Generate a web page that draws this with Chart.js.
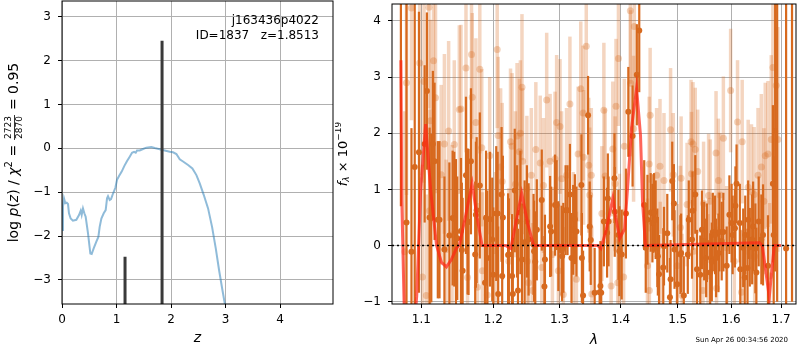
<!DOCTYPE html>
<html>
<head>
<meta charset="utf-8">
<script src="https://cdn.jsdelivr.net/npm/chart.js@4.4.0/dist/chart.umd.min.js"></script>
<style>
  body { margin: 0; background: #fff; width: 800px; height: 350px; overflow: hidden; position: relative; }
  #cPz { position: absolute; left: 0; top: 0; }
  #cSp { position: absolute; left: 335px; top: 0; }
</style>
</head>
<body>
<canvas id="cPz" width="340" height="350"></canvas>
<canvas id="cSp" width="465" height="350"></canvas>
<script>
// ---- left panel: log p(z) ----
var zGrid = [0, 0.018, 0.037, 0.061, 0.086, 0.11, 0.128, 0.159, 0.2, 0.263, 0.312, 0.343, 0.361, 0.385, 0.41, 0.434,
  0.477, 0.52, 0.544, 0.581, 0.63, 0.667, 0.691, 0.722, 0.765, 0.801, 0.826, 0.844, 0.875, 0.899, 0.936, 0.979,
  1.009, 1.046, 1.095, 1.144, 1.193, 1.242, 1.284, 1.321, 1.352, 1.376, 1.425, 1.486, 1.547, 1.639, 1.70, 1.792,
  1.884, 1.976, 2.037, 2.098, 2.159, 2.22, 2.312, 2.391, 2.465, 2.526, 2.599, 2.679, 2.752, 2.82, 2.881, 2.942, 2.99, 3.05];
var logPz = [-1.86, -1.33, -1.14, -1.25, -1.24, -1.27, -1.48, -1.60, -1.65, -1.63, -1.52, -1.42, -1.52, -1.37, -1.48, -1.56,
  -1.94, -2.40, -2.41, -2.28, -2.13, -2.02, -1.79, -1.60, -1.48, -1.41, -1.14, -1.09, -1.18, -1.16, -1.03, -0.90,
  -0.72, -0.63, -0.53, -0.40, -0.29, -0.19, -0.10, -0.08, -0.10, -0.05, -0.05, -0.015, 0.015, 0.03, 0.008, -0.02,
  -0.05, -0.08, -0.09, -0.13, -0.25, -0.30, -0.38, -0.46, -0.61, -0.80, -1.06, -1.37, -1.79, -2.28, -2.78, -3.23, -3.57, -4.07];
var zPeaks = [1.156, 1.835];
var peakTops = [-2.47, 2.456];
var zTicks = [0, 1, 2, 3, 4];
var lnpTicks = [-3, -2, -1, 0, 1, 2, 3];

// ---- right panel: spectrum ----
var darkLam = [
  1.0731,1.0804,1.0869,1.0912,1.0968,1.1044,1.1074,1.1110,1.1133,1.1154,
  1.1177,1.1221,1.1244,1.1311,1.1379,1.1424,1.1447,1.1470,1.1488,1.1540,
  1.1552,1.1563,1.1610,1.1632,1.1646,1.1680,1.1740,1.1750,1.1761,1.1806,
  1.1881,1.1895,1.1913,1.1952,1.1985,1.2000,1.2043,1.2064,1.2071,1.2121,
  1.2130,1.2140,1.2217,1.2228,1.2276,1.2287,1.2316,1.2350,1.2364,1.2400,
  1.2424,1.2464,1.2498,1.2524,1.2599,1.2607,1.2625,1.2649,1.2725,1.2766,
  1.2774,1.2854,1.2870,1.2931,1.2956,1.2983,1.3034,1.3042,1.3061,1.3097,
  1.3128,1.3166,1.3191,1.3218,1.3245,1.3270,1.3350,1.3358,1.3377,1.3458,
  1.3485,1.3502,1.3566,1.3648,1.3661,1.3674,1.3718,1.3772,1.3784,1.3796,
  1.3895,1.3900,1.3962,1.3978,1.4017,1.4089,1.4130,1.4203,1.4276,1.4318,
  1.4404,1.4431,1.4461,1.4518,1.4548,1.4565,1.4577,1.4605,1.4635,1.4644,
  1.4665,1.4740,1.4753,1.4812,1.4860,1.4871,1.4901,1.4931,1.4942,1.4990,
  1.5049,1.5062,1.5111,1.5184,1.5202,1.5262,1.5271,1.5322,1.5354,1.5415,
  1.5446,1.5488,1.5525,1.5539,1.5601,1.5632,1.5651,1.5694,1.5712,1.5758,
  1.5777,1.5820,1.5852,1.5916,1.5968,1.6011,1.6031,1.6075,1.6085,1.6107,
  1.6171,1.6180,1.6237,1.6267,1.6277,1.6322,1.6335,1.6367,1.6414,1.6433,
  1.6478,1.6498,1.6544,1.6597,1.6631,1.6731,1.6831,1.6847,1.6877,1.6918,
  1.7102,1.7225];
var darkFlux = [
  5.5,0.41,-0.11,1.4,1.66,1.81,2.75,0.50,0.49,1.81,
  1.50,0.46,0.46,-0.07,0.18,0.49,0.47,0.24,0.13,0.26,
  -0.08,-0.45,1.25,0.43,0.42,1.50,-0.16,0.55,0.63,1.07,
  -0.66,0.49,-0.22,0.47,0.11,-0.52,0.57,0.57,-0.86,0.91,
  -0.54,0.50,-0.17,-0.16,-0.54,-0.86,0.98,0.43,-0.80,0.59,
  -0.25,0.06,0.43,0.11,0.02,-0.10,-0.29,0.28,0.81,-0.73,
  -0.25,0.34,0.25,0.72,0.72,-0.01,-0.09,-0.19,-0.04,0.63,
  0.63,0.91,-0.22,0.28,0.47,0.25,1.08,-0.22,-0.89,2.32,
  0.34,0.10,-0.84,-0.83,-0.72,-0.84,0.43,0.23,0.84,0.43,
  1.20,0.60,0.19,-0.10,-0.16,0.57,2.38,1.95,3.04,3.83,
  0.72,-0.04,0.46,0.59,0.40,0.57,0.59,0.46,-0.04,-0.19,
  -0.51,-0.39,-0.01,0.22,-0.92,-0.60,1.15,0.75,-0.07,-0.69,
  -0.16,-0.13,-0.89,-0.16,0.46,0.11,0.62,0.91,-0.42,-0.52,
  0.28,0.08,-0.22,0.05,-0.48,-0.29,0.24,0.19,-0.22,-0.13,
  0.24,0.08,0.24,-0.36,0.55,0.40,0.19,0.31,0.71,1.10,
  0.40,-0.42,-0.04,-0.57,0.19,-0.40,0.46,-0.03,0.11,0.34,
  -0.05,-0.48,0.43,0.11,0.19,-0.36,1.10,0.19,2.04,5.0,
  -0.05,5.0];
var darkErr = [
  4.8,4.0,2.2,3.0,2.5,1.4,1.4,1.6,1.5,1.3,
  1.4,1.4,1.4,1.3,1.3,1.2,1.2,1.3,1.1,1.3,
  1.2,1.3,1.4,1.3,1.3,1.3,1.3,1.3,1.3,1.3,
  1.2,1.2,1.2,1.2,1.1,1.2,1.2,1.1,1.2,1.2,
  1.1,1.1,1.1,1.0,1.1,1.0,1.1,1.0,1.1,1.1,
  1.0,1.1,1.0,1.0,0.9,0.9,0.9,0.9,0.9,0.9,
  0.8,0.9,0.8,0.9,0.8,0.8,0.8,0.8,0.8,0.8,
  0.8,0.9,0.8,0.8,0.8,0.8,0.9,0.8,0.8,0.7,
  0.8,0.8,0.8,0.8,0.8,0.8,0.8,0.8,0.8,0.8,
  0.8,0.8,0.8,0.8,0.8,0.8,0.8,0.9,0.9,1.1,
  0.8,0.8,0.8,0.7,0.7,0.7,0.7,0.7,0.7,0.7,
  0.7,0.7,0.7,0.7,0.7,0.7,0.7,0.7,0.7,0.7,
  0.7,0.7,0.7,0.7,0.7,0.7,0.7,0.7,0.7,0.7,
  0.7,0.7,0.7,0.7,0.7,0.7,0.7,0.7,0.7,0.7,
  0.7,0.7,0.7,0.7,0.7,0.7,0.7,0.7,0.7,0.7,
  0.7,0.7,0.7,0.7,0.7,0.7,0.7,0.7,0.8,0.8,
  0.8,0.8,0.8,0.8,0.9,0.9,1.4,1.4,2.5,6.0,
  5.0,6.0];

var lightLam = [
  1.0782,1.0804,1.0869,1.0978,1.1014,1.1035,1.1066,1.1101,1.1110,1.1123,
  1.1163,1.1190,1.1267,1.1311,1.1334,1.1369,1.1416,1.1447,1.1517,1.1540,
  1.1610,1.1632,1.1688,1.1698,1.1750,1.1772,1.1806,1.1834,1.1843,1.1913,
  1.1948,1.2034,1.2057,1.2071,1.2107,1.2130,1.2228,1.2253,1.2276,1.2326,
  1.2350,1.2385,1.2400,1.2424,1.2434,1.2498,1.2506,1.2524,1.2565,1.2584,
  1.2634,1.2701,1.2725,1.2751,1.2801,1.2854,1.2890,1.2931,1.2956,1.2983,
  1.3009,1.3034,1.3061,1.3112,1.3166,1.3218,1.3270,1.3297,1.3340,1.3377,
  1.3385,1.3429,1.3469,1.3485,1.3511,1.3519,1.3685,1.3718,1.3739,1.3839,
  1.3867,1.3905,1.3921,1.3950,1.3962,1.3978,1.4050,1.4062,1.4164,1.4169,
  1.4220,1.4232,1.4461,1.4491,1.4494,1.4508,1.4622,1.4682,1.4687,1.4753,
  1.4871,1.4919,1.4990,1.5049,1.5062,1.5080,1.5171,1.5244,1.5253,1.5280,
  1.5293,1.5322,1.5367,1.5465,1.5477,1.5560,1.5571,1.5601,1.5712,1.5722,
  1.5758,1.5788,1.5852,1.5916,1.5992,1.6063,1.6126,1.6204,1.6217,1.6335,
  1.6400,1.6453,1.6464,1.6531,1.6597,1.6650,1.6676,1.6731,1.6763,1.6797,
  1.6831,1.6898,1.6932];
var lightFlux = [
  -0.11,2.90,4.23,3.25,-0.56,2.92,-0.89,4.24,0.62,2.22,
  3.29,2.63,1.26,1.81,-0.07,2.04,0.19,1.80,2.42,2.43,
  3.16,-0.57,3.40,2.64,2.19,-0.74,3.14,1.74,-0.45,-0.88,
  1.60,-0.09,3.49,1.96,1.40,1.14,-0.28,1.85,1.77,1.09,
  1.95,1.67,2.00,2.82,1.50,1.01,-0.28,-0.66,1.25,-0.80,
  1.71,1.47,-0.39,1.07,2.59,1.50,-0.16,1.54,2.19,-0.45,
  2.12,1.19,-0.87,1.25,2.52,0.11,-0.60,1.63,2.79,2.36,
  1.57,3.55,1.43,0.90,1.25,-0.86,0.57,2.41,1.24,-0.72,
  1.72,1.10,2.48,-0.66,3.33,0.08,-0.56,1.77,4.18,2.89,
  2.08,3.90,-0.36,1.45,-0.80,2.32,1.25,1.41,-0.42,1.16,
  2.06,1.26,-0.36,0.32,1.20,-0.89,0.73,1.85,1.28,1.81,
  -0.10,1.71,1.32,-0.80,0.75,-0.54,0.89,0.79,1.65,-0.76,
  1.16,0.90,1.91,-0.04,2.76,-0.28,2.20,-0.83,1.85,1.04,
  0.96,0.91,-0.19,1.25,1.40,0.79,1.60,1.63,-0.54,1.89,
  3.17,2.85,1.89];
var lightErr = [
  2.5,2.0,2.0,2.0,2.0,1.8,1.8,1.8,1.8,1.8,
  1.7,1.7,1.6,1.6,1.6,1.6,1.6,1.5,1.5,1.5,
  1.5,1.5,1.5,1.5,1.5,1.5,1.5,1.4,1.4,1.4,
  1.4,1.4,1.4,1.4,1.4,1.4,1.3,1.3,1.3,1.3,
  1.3,1.3,1.3,1.3,1.3,1.3,1.3,1.3,1.2,1.2,
  1.2,1.2,1.2,1.2,1.2,1.2,1.2,1.2,1.2,1.2,
  1.2,1.2,1.2,1.2,1.2,1.2,1.2,1.2,1.2,1.2,
  1.2,1.2,1.2,1.2,1.2,1.2,1.2,1.2,1.2,1.2,
  1.2,1.2,1.2,1.2,1.2,1.2,1.2,1.2,1.3,1.3,
  1.3,1.3,1.2,1.2,1.2,1.2,1.2,1.2,1.2,1.2,
  1.1,1.1,1.1,1.1,1.1,1.1,1.1,1.1,1.1,1.1,
  1.1,1.1,1.1,1.1,1.1,1.1,1.1,1.1,1.1,1.1,
  1.1,1.1,1.1,1.1,1.1,1.1,1.1,1.1,1.1,1.2,
  1.2,1.2,1.2,1.2,1.3,1.3,1.3,1.3,1.3,1.5,
  2.0,2.0,2.0];

var modelLam = [1.0731,1.0743,1.0782,1.0899,1.0938,1.0991,1.1057,1.1123,1.1204,1.1271,1.1339,1.1407,1.1475,1.1517,
  1.1600,1.1697,1.1768,1.1838,1.2184,1.2257,1.2331,1.2420,1.2509,1.2600,1.3620,1.3669,1.3751,1.3867,1.3917,1.3984,
  1.4068,1.4135,1.4186,1.4272,1.4340,1.4375,1.4426,1.6557,1.6617,1.6757,1.6858,1.6999];
var modelFlux = [3.3,0.8,-1.6,-1.6,-0.9,1.0,2.16,1.0,0.0,-0.3,-0.38,-0.25,-0.05,0.0,
  0.5,1.1,0.5,0.0,0.0,-0.05,0.4,0.93,0.4,0.0,0.0,-0.05,0.25,0.84,0.5,0.13,
  0.3,1.3,2.1,2.8,1.96,0.78,0.0,0.05,0.0,-0.92,0.0,0.0];
var lamTicks = [1.1, 1.2, 1.3, 1.4, 1.5, 1.6, 1.7];
var fluxTicks = [-1, 0, 1, 2, 3, 4];

var FONT = "'DejaVu Sans', sans-serif";
var darkOrange = 'rgb(215,105,30)';

function pts(xs, ys) {
    return xs.map(function(x, i){ return {x: x, y: ys[i]}; });
}
function minusFmt(v) {
    return v < 0 ? '\u2212' + Math.abs(v) : String(v);
}
function noPad(s) {
    s.paddingTop = 0; s.paddingBottom = 0; s.paddingLeft = 0; s.paddingRight = 0;
}

// draws a list of text pieces one after another along the baseline
function drawPieces(ctx, pieces, cx, cy, rotate) {
    var total = 0;
    pieces.forEach(function(p){
        ctx.font = p.f;
        if (p.frac) {
            p.w = Math.max(ctx.measureText(p.frac[0]).width, ctx.measureText(p.frac[1]).width) + 3;
        } else {
            p.w = ctx.measureText(p.t).width;
        }
        total += p.w;
    });
    ctx.save();
    ctx.translate(cx, cy);
    if (rotate) ctx.rotate(-Math.PI / 2);
    ctx.fillStyle = '#000';
    ctx.textBaseline = 'middle';
    var x = -total / 2;
    pieces.forEach(function(p){
        ctx.font = p.f;
        if (p.frac) {
            ctx.textAlign = 'center';
            ctx.fillText(p.frac[0], x + p.w / 2, -5);
            ctx.fillText(p.frac[1], x + p.w / 2, 5.5);
            ctx.fillRect(x + 0.5, 0, p.w - 1, 0.8);
        } else {
            ctx.textAlign = 'left';
            ctx.fillText(p.t, x, p.dy || 0);
        }
        x += p.w;
    });
    ctx.restore();
}

var framePlugin = {
    id: 'frame',
    afterDraw: function(chart) {
        var a = chart.chartArea, ctx = chart.ctx;
        ctx.save();
        ctx.strokeStyle = '#000';
        ctx.lineWidth = 1;
        ctx.strokeRect(a.left, a.top, a.right - a.left, a.bottom - a.top);
        ctx.restore();
    }
};

var errorBars = {
    id: 'errorBars',
    beforeDatasetDraw: function(chart, args) {
        var ds = chart.data.datasets[args.index];
        if (!ds.errs) return;
        var xs = chart.scales.x, ys = chart.scales.y, a = chart.chartArea, ctx = chart.ctx;
        ctx.save();
        ctx.beginPath();
        ctx.rect(a.left, a.top, a.right - a.left, a.bottom - a.top);
        ctx.clip();
        ctx.strokeStyle = ds.barColor;
        ctx.lineWidth = ds.barWidth;
        ds.data.forEach(function(p, i){
            var e = ds.errs[i];
            var px = xs.getPixelForValue(p.x);
            ctx.beginPath();
            ctx.moveTo(px, ys.getPixelForValue(p.y - e));
            ctx.lineTo(px, ys.getPixelForValue(p.y + e));
            ctx.stroke();
        });
        ctx.restore();
    }
};

var tickFont = {family: FONT, size: 12};
function gridOpts() {
    return {color: '#b0b0b0', lineWidth: 1, tickColor: '#000', tickLength: 4, drawTicks: true};
}

// ---- left chart ----
var pzDatasets = [{
    data: pts(zGrid, logPz),
    showLine: true,
    borderColor: 'rgba(31,119,180,0.5)',
    borderWidth: 2,
    pointRadius: 0,
    order: 1
}];
zPeaks.forEach(function(z, i){
    pzDatasets.push({
        data: [{x: z, y: -10}, {x: z, y: peakTops[i]}],
        showLine: true,
        borderColor: '#3a3a3a',
        borderWidth: 3,
        pointRadius: 0,
        order: 0
    });
});

var pzTitles = {
    id: 'pzTitles',
    afterDraw: function(chart) {
        var ctx = chart.ctx, a = chart.chartArea;
        ctx.save();
        ctx.fillStyle = '#000';
        ctx.font = '12px ' + FONT;
        ctx.textAlign = 'right';
        ctx.textBaseline = 'alphabetic';
        ctx.fillText('j163436p4022', 319, 24);
        ctx.fillText('ID=1837   z=1.8513', 319, 39);
        ctx.font = 'italic 14px ' + FONT;
        ctx.textAlign = 'center';
        ctx.textBaseline = 'middle';
        ctx.fillText('z', (a.left + a.right) / 2, 338);
        ctx.restore();
        var n = '14px ' + FONT, it = 'italic 14px ' + FONT, sm = '10px ' + FONT, fr = '9px ' + FONT;
        drawPieces(ctx, [
            {t: 'log ', f: n}, {t: 'p', f: it}, {t: '(', f: n}, {t: 'z', f: it}, {t: ') / ', f: n},
            {t: '\u03c7', f: it}, {t: '2', f: sm, dy: -5}, {t: ' = ', f: n},
            {frac: ['2723', '2870'], f: fr}, {t: ' = 0.95', f: n}
        ], 14, (a.top + a.bottom) / 2, true);
    }
};

new Chart(document.getElementById('cPz'), {
    type: 'scatter',
    data: {datasets: pzDatasets},
    options: {
        responsive: false,
        animation: false,
        layout: {padding: {top: 1, right: 7, left: 0, bottom: 0}},
        plugins: {legend: {display: false}, tooltip: {enabled: false}},
        scales: {
            x: {
                type: 'linear', min: 0, max: 4.97, bounds: 'data',
                afterBuildTicks: function(s){ s.ticks = zTicks.map(function(v){ return {value: v}; }); },
                afterFit: function(s){ s.height = 46; noPad(s); },
                grid: gridOpts(), border: {display: false},
                ticks: {font: tickFont, color: '#000', padding: 5, maxRotation: 0, autoSkip: false, callback: minusFmt}
            },
            y: {
                type: 'linear', min: -3.55, max: 3.36, bounds: 'data',
                afterBuildTicks: function(s){ s.ticks = lnpTicks.map(function(v){ return {value: v}; }); },
                afterFit: function(s){ s.width = 62; noPad(s); },
                grid: gridOpts(), border: {display: false},
                ticks: {font: tickFont, color: '#000', padding: 7, autoSkip: false, callback: minusFmt}
            }
        }
    },
    plugins: [framePlugin, pzTitles]
});

// ---- right chart ----
var spTitles = {
    id: 'spTitles',
    afterDraw: function(chart) {
        var ctx = chart.ctx, a = chart.chartArea;
        ctx.save();
        ctx.fillStyle = '#000';
        ctx.font = 'italic 14px ' + FONT;
        ctx.textAlign = 'center';
        ctx.textBaseline = 'middle';
        ctx.fillText('\u03bb', (a.left + a.right) / 2, 340);
        ctx.font = '7px ' + FONT;
        ctx.textAlign = 'right';
        ctx.fillText('Sun Apr 26 00:34:56 2020', 453, 340);
        ctx.restore();
        var n = '13px ' + FONT, it = 'italic 13px ' + FONT, sm = '9px ' + FONT;
        drawPieces(ctx, [
            {t: 'f', f: it}, {t: '\u03bb', f: 'italic 9px ' + FONT, dy: 3}, {t: ' \u00d7 10', f: n}, {t: '\u221219', f: sm, dy: -5}
        ], 9, (a.top + a.bottom) / 2, true);
    }
};

new Chart(document.getElementById('cSp'), {
    type: 'scatter',
    data: {
        datasets: [
            {
                data: [{x: 1.0616, y: 0}, {x: 1.7308, y: 0}],
                showLine: true, borderColor: '#000', borderWidth: 1.5, borderDash: [2, 3],
                pointRadius: 0, order: 0
            },
            {
                data: pts(modelLam, modelFlux),
                showLine: true, borderColor: 'rgba(255,35,20,0.7)', borderWidth: 3,
                pointRadius: 0, order: 1
            },
            {
                data: pts(darkLam, darkFlux), errs: darkErr,
                barColor: darkOrange, barWidth: 2.2,
                pointRadius: 3, pointBackgroundColor: darkOrange, pointBorderWidth: 0, order: 2
            },
            {
                data: pts(lightLam, lightFlux), errs: lightErr,
                barColor: 'rgba(215,105,30,0.28)', barWidth: 3.5,
                pointRadius: 3.5, pointBackgroundColor: 'rgba(215,105,30,0.3)', pointBorderWidth: 0, order: 3
            }
        ]
    },
    options: {
        responsive: false,
        animation: false,
        layout: {padding: {top: 1, right: 0, left: 0, bottom: 0}},
        plugins: {legend: {display: false}, tooltip: {enabled: false}},
        scales: {
            x: {
                type: 'logarithmic', min: 1.0616, max: 1.7308, bounds: 'data',
                afterBuildTicks: function(s){ s.ticks = lamTicks.map(function(v){ return {value: v}; }); },
                afterFit: function(s){ s.height = 46; noPad(s); },
                grid: gridOpts(), border: {display: false},
                ticks: {font: tickFont, color: '#000', padding: 5, maxRotation: 0, autoSkip: false,
                        callback: function(v){ return Number(v).toFixed(1); }}
            },
            y: {
                type: 'linear', min: -1.04, max: 4.30, bounds: 'data',
                afterBuildTicks: function(s){ s.ticks = fluxTicks.map(function(v){ return {value: v}; }); },
                afterFit: function(s){ s.width = 57; noPad(s); },
                grid: gridOpts(), border: {display: false},
                ticks: {font: tickFont, color: '#000', padding: 7, autoSkip: false, callback: minusFmt}
            }
        }
    },
    plugins: [framePlugin, errorBars, spTitles]
});
</script>
</body>
</html>
